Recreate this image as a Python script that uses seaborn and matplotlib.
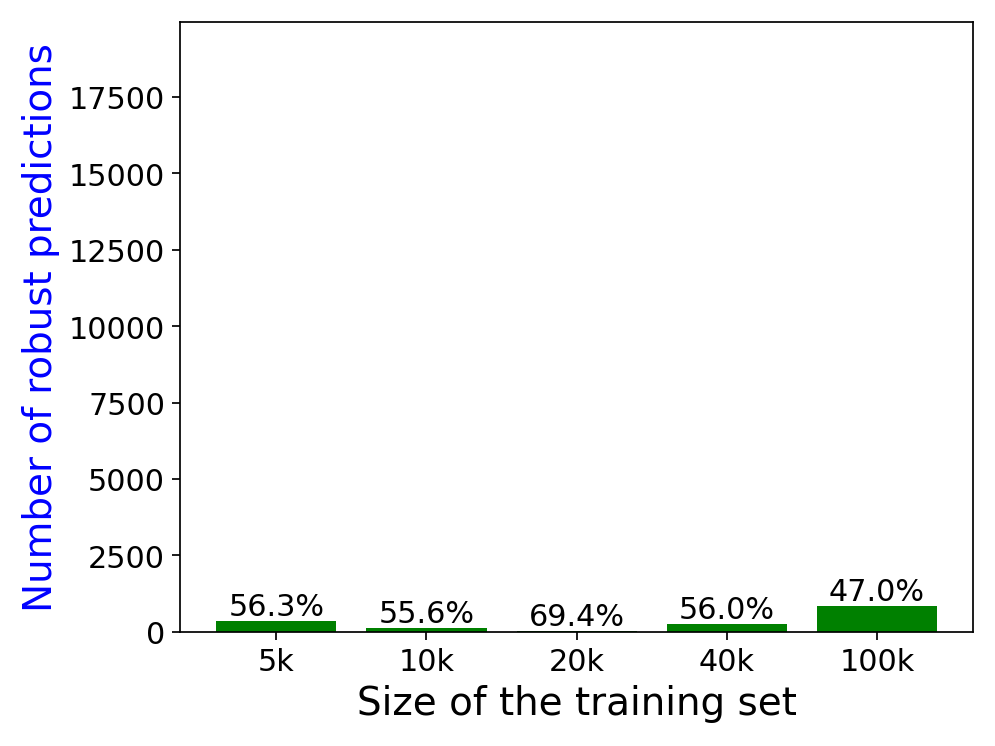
import matplotlib
matplotlib.use("Agg")
import matplotlib.pyplot as plt
import seaborn as sns
import pandas as pd

categories = ["5k", "10k", "20k", "40k", "100k"]
robust_counts = [350, 120, 25, 262, 850]
percent_labels = ["56.3%", "55.6%", "69.4%", "56.0%", "47.0%"]

df = pd.DataFrame({"size": categories, "count": robust_counts})

fig = plt.figure(figsize=(6.4, 4.8), dpi=155.6)
ax = fig.add_axes([0.181, 0.153, 0.796, 0.816])
sns.barplot(data=df, x="size", y="count", color="green", saturation=1,
            width=0.8, ax=ax)
for p, lab in zip(ax.patches, percent_labels):
    ax.text(p.get_x() + p.get_width() / 2, p.get_height(), lab,
            ha="center", va="bottom", fontsize=14)
ax.set_xlim(-0.64, 4.64)
ax.set_ylim(0, 19950)
ax.set_yticks([0, 2500, 5000, 7500, 10000, 12500, 15000, 17500])
ax.tick_params(labelsize=14)
ax.set_xlabel("Size of the training set", fontsize=18)
ax.set_ylabel("Number of robust predictions", fontsize=18, color="blue")
fig.savefig("out.png", dpi=155.6)
